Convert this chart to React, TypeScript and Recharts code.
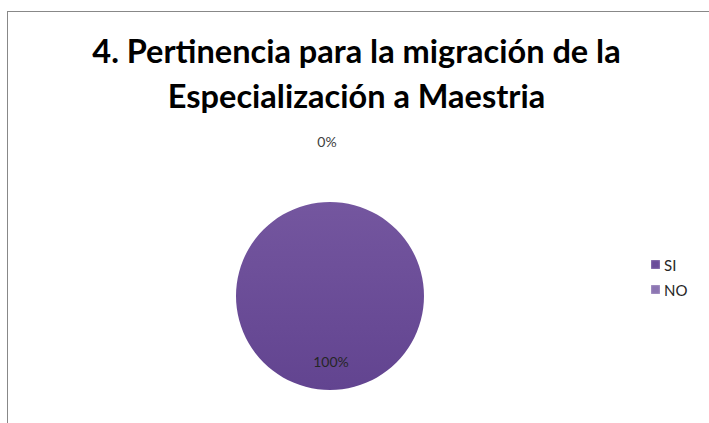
import { PieChart, Pie, Cell, Legend } from 'recharts';

const categories = ['SI', 'NO'];
const values = [100, 0];
const percentLabels = ['100%', '0%'];

const colors = ['#6B4C9A', '#8C75B2'];

const chartData = categories.map((name, i) => ({ name, value: values[i], label: percentLabels[i] }));

const RADIAN = Math.PI / 180;

const renderLabel = ({ cx, cy, midAngle, outerRadius, index }: any) => {
  const r = index === 0 ? outerRadius * 0.7 : outerRadius + 61;
  const x = cx + r * Math.cos(-midAngle * RADIAN) + (index === 0 ? 1 : -3);
  const y = cy + r * Math.sin(-midAngle * RADIAN);
  return (
    <text
      x={x}
      y={y}
      fill={index === 0 ? '#262626' : '#404040'}
      textAnchor="middle"
      dominantBaseline="central"
      fontSize={14}
      fontFamily="Lato, 'Open Sans', sans-serif"
    >
      {chartData[index].label}
    </text>
  );
};

const LegendContent = () => (
  <div style={{ fontFamily: "Lato, 'Open Sans', sans-serif", fontSize: 15, color: '#262626' }}>
    {chartData.map((d, i) => (
      <div key={d.name} style={{ display: 'flex', alignItems: 'center', height: 25 }}>
        <span
          style={{
            display: 'inline-block',
            width: 9,
            height: 9,
            marginRight: 4,
            background: colors[i],
            boxShadow: 'inset 0 0 2px rgba(255,255,255,0.6)',
          }}
        />
        {d.name}
      </div>
    ))}
  </div>
);

const App = () => {
  return (
    <div style={{ position: 'relative', width: 709, height: 423, overflow: 'hidden', background: '#fff' }}>
      <style>{'body{margin:0}'}</style>
      <div
        style={{
          position: 'absolute',
          left: 7,
          top: 11,
          width: 740,
          height: 440,
          border: '1px solid #888',
          boxSizing: 'border-box',
        }}
      />
      <div
        style={{
          position: 'absolute',
          left: 0,
          top: 28,
          width: 713,
          textAlign: 'center',
          fontFamily: "Lato, 'Open Sans', sans-serif",
          fontWeight: 'bold',
          fontSize: 32.5,
          lineHeight: '45px',
          color: '#000',
        }}
      >
        4. Pertinencia para la migración de la
        <br />
        Especialización a Maestria
      </div>
      <div style={{ position: 'absolute', left: 0, top: 0 }}>
        <PieChart width={709} height={423}>
          <defs>
            <linearGradient id="siFill" x1="0" y1="0" x2="0" y2="1">
              <stop offset="0%" stopColor="#74569F" />
              <stop offset="100%" stopColor="#624490" />
            </linearGradient>
          </defs>
          <Pie
            data={chartData}
            dataKey="value"
            cx={325}
            cy={291}
            outerRadius={94}
            startAngle={90}
            endAngle={-270}
            labelLine={false}
            label={renderLabel}
            stroke="none"
            isAnimationActive={false}
          >
            {chartData.map((d, i) => (
              <Cell key={d.name} fill={i === 0 ? 'url(#siFill)' : colors[i]} />
            ))}
          </Pie>
          <Legend
            layout="vertical"
            align="right"
            verticalAlign="top"
            wrapperStyle={{ top: 252, right: 8, width: 50 }}
            content={<LegendContent />}
          />
        </PieChart>
      </div>
    </div>
  );
};

export default App;
